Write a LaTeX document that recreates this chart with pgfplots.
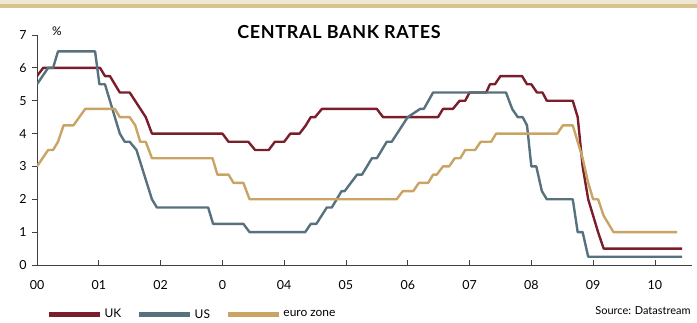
\documentclass[border=0pt]{standalone}
\usepackage{fontspec}
\setmainfont{Lato}
\usepackage{pgfplots}
\pgfplotsset{compat=1.18}

\definecolor{ukred}{HTML}{7A1E2C}
\definecolor{usslate}{HTML}{57717E}
\definecolor{eurotan}{HTML}{C9A464}
\definecolor{bandfill}{HTML}{EEE7D3}
\definecolor{bandline}{HTML}{D8C28E}

\begin{document}
\begin{tikzpicture}[x=1bp,y=1bp]
\begin{axis}[
  at={(0,0)}, anchor=south west,
  scale only axis, width=655bp, height=230bp,
  xmin=0, xmax=10.6, ymin=0, ymax=7,
  axis x line=bottom, axis y line=left,
  axis line style={-, line width=0.8bp, color=black!75},
  xtick={0,1,2,3,4,5,6,7,8,9,10},
  xticklabels={00,01,02,0,04,05,06,07,08,09,10},
  ytick={0,1,2,3,4,5,6,7},
  tick align=inside,
  major tick length=5bp,
  tick style={line width=0.8bp, color=black!75},
  ytick style={xshift=-5bp},
  /pgf/number format/assume math mode=true,
  tick label style={font=\fontsize{12.5}{14}\selectfont},
  xticklabel style={yshift=-12bp},
  yticklabel style={xshift=-7bp},
  legend columns=3,
  legend style={at={(0.015,-0.215)}, anchor=west, draw=none, fill=none,
    font=\fontsize{12}{14}\selectfont, inner sep=0pt,
    /tikz/every even column/.append style={column sep=14bp}},
  legend image code/.code={\draw[line width=4.5bp] (0bp,0bp) -- (51bp,0bp);},
  every axis plot/.append style={line width=2.4bp, line join=round},
]
% UK: Bank of England rate
\addplot[ukred, mark=none] coordinates {
(0,5.75)(0.1,6)(1.02,6)(1.1,5.75)(1.18,5.75)(1.34,5.25)(1.5,5.25)(1.76,4.5)(1.86,4.0)
(3.0,4.0)(3.1,3.75)(3.42,3.75)(3.53,3.5)(3.75,3.5)(3.85,3.75)(4.0,3.75)(4.1,4.0)(4.25,4.0)
(4.35,4.25)(4.43,4.5)(4.5,4.5)(4.61,4.75)(5.5,4.75)(5.6,4.5)(6.49,4.5)(6.57,4.75)(6.73,4.75)
(6.84,5.0)(6.93,5.0)(7.0,5.25)(7.27,5.25)(7.33,5.5)(7.41,5.5)(7.5,5.75)(7.85,5.75)(7.93,5.5)
(8.0,5.5)(8.09,5.25)(8.18,5.25)(8.25,5.0)(8.67,5.0)(8.75,4.5)(8.83,3.0)(8.92,2.0)(9.0,1.5)
(9.08,1.0)(9.17,0.5)(10.44,0.5)};
\addlegendentry{UK}
% US: Federal funds target
\addplot[usslate, mark=none] coordinates {
(0,5.5)(0.18,6.0)(0.26,6.0)(0.34,6.5)(0.94,6.5)(1.01,5.5)(1.1,5.5)(1.34,4.0)(1.42,3.75)
(1.5,3.75)(1.61,3.5)(1.86,2.0)(1.94,1.75)(2.77,1.75)(2.85,1.25)(3.34,1.25)(3.44,1.0)(4.34,1.0)
(4.43,1.25)(4.52,1.25)(4.69,1.75)(4.77,1.75)(4.93,2.25)(4.98,2.25)(5.18,2.75)(5.26,2.75)
(5.42,3.25)(5.5,3.25)(5.66,3.75)(5.74,3.75)(6.0,4.5)(6.2,4.75)(6.26,4.75)(6.41,5.25)(7.59,5.25)
(7.69,4.75)(7.78,4.5)(7.86,4.5)(7.93,4.25)(8.0,3.0)(8.08,3.0)(8.17,2.25)(8.25,2.0)(8.67,2.0)
(8.75,1.0)(8.83,1.0)(8.92,0.25)(10.44,0.25)};
\addlegendentry{US}
% Euro zone: ECB main refinancing rate
\addplot[eurotan, mark=none] coordinates {
(0,3.0)(0.18,3.5)(0.26,3.5)(0.34,3.75)(0.43,4.25)(0.59,4.25)(0.78,4.75)(1.26,4.75)(1.34,4.5)
(1.5,4.5)(1.59,4.25)(1.67,3.75)(1.76,3.75)(1.86,3.25)(2.84,3.25)(2.92,2.75)(3.1,2.75)(3.18,2.5)
(3.34,2.5)(3.44,2.0)(5.82,2.0)(5.92,2.25)(6.09,2.25)(6.18,2.5)(6.33,2.5)(6.41,2.75)(6.47,2.75)
(6.57,3.0)(6.67,3.0)(6.76,3.25)(6.85,3.25)(6.93,3.5)(7.09,3.5)(7.18,3.75)(7.35,3.75)(7.43,4.0)
(8.42,4.0)(8.51,4.25)(8.67,4.25)(8.75,3.75)(8.83,3.25)(8.92,2.5)(9.0,2.0)(9.08,2.0)(9.17,1.5)
(9.33,1.0)(10.36,1.0)};
\addlegendentry{euro zone}
\end{axis}

% header band
\fill[bandfill] (-37,265) rectangle (660,260.6);
\fill[bandline] (-37,260.6) rectangle (660,257);

% titles and notes
\node[font=\fontsize{18}{21}\selectfont\bfseries\addfontfeatures{LetterSpace=4}] at (302,233) {CENTRAL BANK RATES};
\node[font=\fontsize{12}{14}\selectfont] at (20,234) {\%};
\node[font=\fontsize{11}{13}\selectfont, anchor=east] at (657,-46) {Source: Datastream};

\pgfresetboundingbox
\useasboundingbox (-37,-57) rectangle (660,265);
\end{tikzpicture}
\end{document}
